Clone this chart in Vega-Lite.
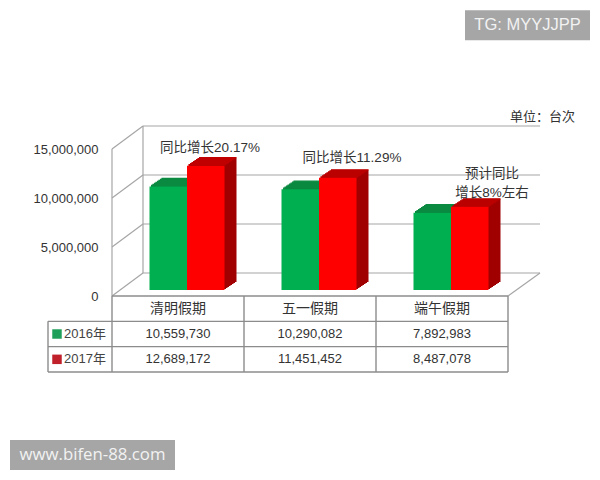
{
"$schema":"https://vega.github.io/schema/vega-lite/v6.json",
"width":396,"height":223,"autosize":"none",
"padding":{"left":112,"top":149,"right":92,"bottom":108},
"background":"white",
"config":{"view":{"stroke":null},"axisX":{"disable":true},"numberFormat":",","text":{"font":"Liberation Sans, Noto Sans CJK SC"}},
"datasets":{
"bars":[
{"holiday":"清明假期","year":"2016","value":10559730},
{"holiday":"清明假期","year":"2017","value":12689172},
{"holiday":"五一假期","year":"2016","value":10290082},
{"holiday":"五一假期","year":"2017","value":11451452},
{"holiday":"端午假期","year":"2016","value":7892983},
{"holiday":"端午假期","year":"2017","value":8487078}],
"ticks":[{"tick":0},{"tick":5000000},{"tick":10000000},{"tick":15000000}]
},
"resolve":{"scale":{"y":"independent"}},
"layer":[
{"resolve":{"scale":{"xOffset":"independent"}},"layer":[
{"data":{"name":"ticks"},"mark":{"type":"rule","color":"#a6a6a6","strokeWidth":1.2,"xOffset":31,"x2Offset":362,"yOffset":-23,"y2Offset":-23},
 "encoding":{"x":{"datum":"清明假期","type":"nominal","bandPosition":0,"scale":{"domain":["清明假期","五一假期","端午假期"],"paddingInner":0,"paddingOuter":0}},"x2":{"datum":"清明假期"},
 "y":{"field":"tick","type":"quantitative","scale":{"domain":[0,15000000],"range":[147,0],"nice":false,"zero":false},"axis":{"title":null,"values":[0,5000000,10000000,15000000],"labelExpr":"format(datum.value, ',')","ticks":false,"domain":false,"grid":false,"labelFontSize":13,"labelColor":"#333333","labelPadding":14,"labelFont":"Liberation Sans"}},"y2":{"field":"tick"}}},
{"data":{"name":"ticks"},"mark":{"type":"rule","color":"#a6a6a6","strokeWidth":1.2,"x2Offset":-35,"y2Offset":-23},
 "encoding":{"x":{"datum":"清明假期","type":"nominal","bandPosition":0},"x2":{"datum":"清明假期"},"y":{"field":"tick","type":"quantitative"},"y2":{"field":"tick"}}},
{"data":{"values":[{"edge":"wall"}]},"mark":{"type":"rule","color":"#a6a6a6","strokeWidth":1.2,"xOffset":31,"x2Offset":-35,"yOffset":-23,"y2Offset":-23},
 "encoding":{"x":{"datum":"清明假期","type":"nominal","bandPosition":0},"x2":{"datum":"清明假期"},"y":{"datum":0,"type":"quantitative"},"y2":{"datum":15000000}}},
{"data":{"values":[{"edge":"front"}]},"mark":{"type":"rule","color":"#a6a6a6","strokeWidth":1.2,"x2Offset":-66},
 "encoding":{"x":{"datum":"清明假期","type":"nominal","bandPosition":0},"x2":{"datum":"清明假期"},"y":{"datum":0,"type":"quantitative"},"y2":{"datum":15000000}}},
{"data":{"values":[{"edge":"floor"}]},"mark":{"type":"rule","color":"#a6a6a6","strokeWidth":1.2,"xOffset":132,"x2Offset":98,"y2Offset":-23},
 "encoding":{"x":{"datum":"端午假期","type":"nominal","bandPosition":0},"x2":{"datum":"端午假期"},"y":{"datum":0,"type":"quantitative"},"y2":{"datum":0}}},

{"data":{"name":"bars"},"mark":{"type":"bar","yOffset":-14,"y2Offset":-14},"encoding":{"x":{"field":"holiday","type":"nominal"},"xOffset":{"field":"year","type":"nominal","scale":{"range":[49.5,124.5]}},"y":{"field":"value","type":"quantitative"},"y2":{"datum":0},"fill":{"condition":{"test":"datum.year=='2016'","value":"#0a7f3c"},"value":"#a00000"}}},
{"data":{"name":"bars"},"mark":{"type":"bar","strokeWidth":1.3,"yOffset":-14,"y2Offset":-14},"encoding":{"x":{"field":"holiday","type":"nominal"},"xOffset":{"field":"year","type":"nominal","scale":{"range":[49.5,124.5]}},"y":{"field":"value","type":"quantitative"},"y2":{"field":"value"},"stroke":{"condition":{"test":"datum.year=='2016'","value":"#0a8a40"},"value":"#c00000"}}},
{"data":{"name":"bars"},"mark":{"type":"bar","yOffset":-13,"y2Offset":-13},"encoding":{"x":{"field":"holiday","type":"nominal"},"xOffset":{"field":"year","type":"nominal","scale":{"range":[48,123]}},"y":{"field":"value","type":"quantitative"},"y2":{"datum":0},"fill":{"condition":{"test":"datum.year=='2016'","value":"#0a7f3c"},"value":"#a00000"}}},
{"data":{"name":"bars"},"mark":{"type":"bar","strokeWidth":1.3,"yOffset":-13,"y2Offset":-13},"encoding":{"x":{"field":"holiday","type":"nominal"},"xOffset":{"field":"year","type":"nominal","scale":{"range":[48,123]}},"y":{"field":"value","type":"quantitative"},"y2":{"field":"value"},"stroke":{"condition":{"test":"datum.year=='2016'","value":"#0a8a40"},"value":"#c00000"}}},
{"data":{"name":"bars"},"mark":{"type":"bar","yOffset":-12,"y2Offset":-12},"encoding":{"x":{"field":"holiday","type":"nominal"},"xOffset":{"field":"year","type":"nominal","scale":{"range":[46.5,121.5]}},"y":{"field":"value","type":"quantitative"},"y2":{"datum":0},"fill":{"condition":{"test":"datum.year=='2016'","value":"#0a7f3c"},"value":"#a00000"}}},
{"data":{"name":"bars"},"mark":{"type":"bar","strokeWidth":1.3,"yOffset":-12,"y2Offset":-12},"encoding":{"x":{"field":"holiday","type":"nominal"},"xOffset":{"field":"year","type":"nominal","scale":{"range":[46.5,121.5]}},"y":{"field":"value","type":"quantitative"},"y2":{"field":"value"},"stroke":{"condition":{"test":"datum.year=='2016'","value":"#0a8a40"},"value":"#c00000"}}},
{"data":{"name":"bars"},"mark":{"type":"bar","yOffset":-11,"y2Offset":-11},"encoding":{"x":{"field":"holiday","type":"nominal"},"xOffset":{"field":"year","type":"nominal","scale":{"range":[45,120]}},"y":{"field":"value","type":"quantitative"},"y2":{"datum":0},"fill":{"condition":{"test":"datum.year=='2016'","value":"#0a7f3c"},"value":"#a00000"}}},
{"data":{"name":"bars"},"mark":{"type":"bar","strokeWidth":1.3,"yOffset":-11,"y2Offset":-11},"encoding":{"x":{"field":"holiday","type":"nominal"},"xOffset":{"field":"year","type":"nominal","scale":{"range":[45,120]}},"y":{"field":"value","type":"quantitative"},"y2":{"field":"value"},"stroke":{"condition":{"test":"datum.year=='2016'","value":"#0a8a40"},"value":"#c00000"}}},
{"data":{"name":"bars"},"mark":{"type":"bar","yOffset":-10,"y2Offset":-10},"encoding":{"x":{"field":"holiday","type":"nominal"},"xOffset":{"field":"year","type":"nominal","scale":{"range":[43.5,118.5]}},"y":{"field":"value","type":"quantitative"},"y2":{"datum":0},"fill":{"condition":{"test":"datum.year=='2016'","value":"#0a7f3c"},"value":"#a00000"}}},
{"data":{"name":"bars"},"mark":{"type":"bar","strokeWidth":1.3,"yOffset":-10,"y2Offset":-10},"encoding":{"x":{"field":"holiday","type":"nominal"},"xOffset":{"field":"year","type":"nominal","scale":{"range":[43.5,118.5]}},"y":{"field":"value","type":"quantitative"},"y2":{"field":"value"},"stroke":{"condition":{"test":"datum.year=='2016'","value":"#0a8a40"},"value":"#c00000"}}},
{"data":{"name":"bars"},"mark":{"type":"bar","yOffset":-9,"y2Offset":-9},"encoding":{"x":{"field":"holiday","type":"nominal"},"xOffset":{"field":"year","type":"nominal","scale":{"range":[42,117]}},"y":{"field":"value","type":"quantitative"},"y2":{"datum":0},"fill":{"condition":{"test":"datum.year=='2016'","value":"#0a7f3c"},"value":"#a00000"}}},
{"data":{"name":"bars"},"mark":{"type":"bar","strokeWidth":1.3,"yOffset":-9,"y2Offset":-9},"encoding":{"x":{"field":"holiday","type":"nominal"},"xOffset":{"field":"year","type":"nominal","scale":{"range":[42,117]}},"y":{"field":"value","type":"quantitative"},"y2":{"field":"value"},"stroke":{"condition":{"test":"datum.year=='2016'","value":"#0a8a40"},"value":"#c00000"}}},
{"data":{"name":"bars"},"mark":{"type":"bar","yOffset":-8,"y2Offset":-8},"encoding":{"x":{"field":"holiday","type":"nominal"},"xOffset":{"field":"year","type":"nominal","scale":{"range":[40.5,115.5]}},"y":{"field":"value","type":"quantitative"},"y2":{"datum":0},"fill":{"condition":{"test":"datum.year=='2016'","value":"#0a7f3c"},"value":"#a00000"}}},
{"data":{"name":"bars"},"mark":{"type":"bar","strokeWidth":1.3,"yOffset":-8,"y2Offset":-8},"encoding":{"x":{"field":"holiday","type":"nominal"},"xOffset":{"field":"year","type":"nominal","scale":{"range":[40.5,115.5]}},"y":{"field":"value","type":"quantitative"},"y2":{"field":"value"},"stroke":{"condition":{"test":"datum.year=='2016'","value":"#0a8a40"},"value":"#c00000"}}},
{"data":{"name":"bars"},"mark":{"type":"bar","yOffset":-7,"y2Offset":-7},"encoding":{"x":{"field":"holiday","type":"nominal"},"xOffset":{"field":"year","type":"nominal","scale":{"range":[39,114]}},"y":{"field":"value","type":"quantitative"},"y2":{"datum":0},"fill":{"condition":{"test":"datum.year=='2016'","value":"#0a7f3c"},"value":"#a00000"}}},
{"data":{"name":"bars"},"mark":{"type":"bar","strokeWidth":1.3,"yOffset":-7,"y2Offset":-7},"encoding":{"x":{"field":"holiday","type":"nominal"},"xOffset":{"field":"year","type":"nominal","scale":{"range":[39,114]}},"y":{"field":"value","type":"quantitative"},"y2":{"field":"value"},"stroke":{"condition":{"test":"datum.year=='2016'","value":"#0a8a40"},"value":"#c00000"}}},
{"data":{"name":"bars"},"mark":{"type":"bar","yOffset":-6,"y2Offset":-6},"encoding":{"x":{"field":"holiday","type":"nominal"},"xOffset":{"field":"year","type":"nominal","scale":{"range":[37.5,112.5]}},"y":{"field":"value","type":"quantitative"},"y2":{"datum":0},"fill":{"condition":{"test":"datum.year=='2016'","value":"#00b050"},"value":"#ff0000"}}},

{"data":{"values":[{"note":"同比增长20.17%"}]},"mark":{"type":"text","fontSize":13.5,"color":"#333333","dx":32},"encoding":{"x":{"datum":"清明假期","type":"nominal"},"y":{"datum":15100000,"type":"quantitative"},"text":{"field":"note"}}},
{"data":{"values":[{"note":"同比增长11.29%"}]},"mark":{"type":"text","fontSize":13.5,"color":"#333333","dx":42},"encoding":{"x":{"datum":"五一假期","type":"nominal"},"y":{"datum":14080000,"type":"quantitative"},"text":{"field":"note"}}},
{"data":{"values":[{"note":"预计同比"}]},"mark":{"type":"text","fontSize":13.5,"color":"#333333","dx":50},"encoding":{"x":{"datum":"端午假期","type":"nominal"},"y":{"datum":12450000,"type":"quantitative"},"text":{"field":"note"}}},
{"data":{"values":[{"note":"增长8%左右"}]},"mark":{"type":"text","fontSize":13.5,"color":"#333333","dx":50},"encoding":{"x":{"datum":"端午假期","type":"nominal"},"y":{"datum":10500000,"type":"quantitative"},"text":{"field":"note"}}},
{"data":{"values":[{"note":"单位：台次"}]},"mark":{"type":"text","fontSize":13,"color":"#333333","align":"left","dx":2},"encoding":{"x":{"datum":"端午假期","type":"nominal","bandPosition":1},"y":{"datum":18270000,"type":"quantitative"},"text":{"field":"note"}}},

{"data":{"values":[{"note":"TG: MYYJJPP"}]},"mark":{"type":"rect","color":"#a6a6a6","xOffset":353,"x2Offset":412},"encoding":{"x":{"datum":"清明假期","type":"nominal","bandPosition":0},"x2":{"datum":"清明假期"},"y":{"datum":26100000,"type":"quantitative"},"y2":{"datum":29150000}}},
{"data":{"values":[{"note":"TG: MYYJJPP"}]},"mark":{"type":"text","font":"Liberation Sans","fontSize":16.5,"color":"#f2f2f2","dx":19.5},"encoding":{"x":{"datum":"端午假期","type":"nominal","bandPosition":1},"y":{"datum":27630000,"type":"quantitative"},"text":{"field":"note"}}},
{"data":{"values":[{"note":"www.bifen-88.com"}]},"mark":{"type":"rect","color":"#a6a6a6","xOffset":-102,"x2Offset":-3},"encoding":{"x":{"datum":"清明假期","type":"nominal","bandPosition":0},"x2":{"datum":"清明假期"},"y":{"datum":-14690000,"type":"quantitative"},"y2":{"datum":-17760000}}},
{"data":{"values":[{"note":"www.bifen-88.com"}]},"mark":{"type":"text","font":"Open Sans","fontSize":16.8,"color":"#f2f2f2","dx":-19.5},"encoding":{"x":{"datum":"清明假期","type":"nominal","bandPosition":0},"y":{"datum":-16230000,"type":"quantitative"},"text":{"field":"note"}}}
]},
{"layer":[
{"data":{"values":[{"row":"holiday"},{"row":"2016"},{"row":"2017"}]},"mark":{"type":"rule","color":"#8c8c8c","strokeWidth":1.4,"x2Offset":330},
 "encoding":{"x":{"datum":"清明假期","type":"nominal","bandPosition":0},"x2":{"datum":"清明假期"},"y":{"field":"row","type":"nominal","bandPosition":0,"axis":null,"scale":{"domain":["holiday","2016","2017"],"range":[147,223],"paddingInner":0,"paddingOuter":0}}}},
{"data":{"values":[{"row":"2017"}]},"mark":{"type":"rule","color":"#8c8c8c","strokeWidth":1.4,"x2Offset":330},
 "encoding":{"x":{"datum":"清明假期","type":"nominal","bandPosition":0},"x2":{"datum":"清明假期"},"y":{"field":"row","type":"nominal","bandPosition":1,"axis":null}}},
{"data":{"values":[{"row":"2016"},{"row":"2017"}]},"mark":{"type":"rule","color":"#8c8c8c","strokeWidth":1.4,"x2Offset":-130},
 "encoding":{"x":{"datum":"清明假期","type":"nominal","bandPosition":0},"x2":{"datum":"清明假期"},"y":{"field":"row","type":"nominal","bandPosition":0,"axis":null}}},
{"data":{"values":[{"row":"2017"}]},"mark":{"type":"rule","color":"#8c8c8c","strokeWidth":1.4,"x2Offset":-130},
 "encoding":{"x":{"datum":"清明假期","type":"nominal","bandPosition":0},"x2":{"datum":"清明假期"},"y":{"field":"row","type":"nominal","bandPosition":1,"axis":null}}},
{"data":{"values":[{"col":"清明假期"},{"col":"五一假期"},{"col":"端午假期"}]},"mark":{"type":"rule","color":"#8c8c8c","strokeWidth":1.4,"y2Offset":12.67},
 "encoding":{"x":{"field":"col","type":"nominal","bandPosition":0},"y":{"datum":"holiday","type":"nominal","bandPosition":0,"axis":null},"y2":{"datum":"2017"}}},
{"data":{"values":[{"col":"端午假期"}]},"mark":{"type":"rule","color":"#8c8c8c","strokeWidth":1.4,"y2Offset":12.67},
 "encoding":{"x":{"field":"col","type":"nominal","bandPosition":1},"y":{"datum":"holiday","type":"nominal","bandPosition":0,"axis":null},"y2":{"datum":"2017"}}},
{"data":{"values":[{"row":"2016"}]},"mark":{"type":"rule","color":"#8c8c8c","strokeWidth":1.4,"xOffset":-64,"y2Offset":12.67},
 "encoding":{"x":{"datum":"清明假期","type":"nominal","bandPosition":0},"y":{"field":"row","type":"nominal","bandPosition":0,"axis":null},"y2":{"datum":"2017"}}},
{"data":{"name":"bars"},"transform":[{"filter":"datum.year=='2016'"}],"mark":{"type":"text","fontSize":14,"color":"#333333"},
 "encoding":{"x":{"field":"holiday","type":"nominal"},"y":{"datum":"holiday","type":"nominal","axis":null},"text":{"field":"holiday"}}},
{"data":{"name":"bars"},"mark":{"type":"text","fontSize":13,"color":"#333333"},
 "encoding":{"x":{"field":"holiday","type":"nominal"},"y":{"field":"year","type":"nominal","axis":null},"text":{"field":"value","type":"quantitative","format":","}}},
{"data":{"values":[{"row":"2016","label":"2016年"},{"row":"2017","label":"2017年"}]},"mark":{"type":"text","fontSize":13,"color":"#444444","align":"left","dx":-48},
 "encoding":{"x":{"datum":"清明假期","type":"nominal","bandPosition":0},"y":{"field":"row","type":"nominal","axis":null},"text":{"field":"label"}}},
{"data":{"values":[{"row":"2016"},{"row":"2017"}]},"mark":{"type":"point","shape":"square","filled":true,"size":90,"opacity":1,"xOffset":-55},
 "encoding":{"x":{"datum":"清明假期","type":"nominal","bandPosition":0},"y":{"field":"row","type":"nominal","axis":null},"fill":{"condition":{"test":"datum.row=='2016'","value":"#1fa05a"},"value":"#c0202a"}}}
]}
]}
